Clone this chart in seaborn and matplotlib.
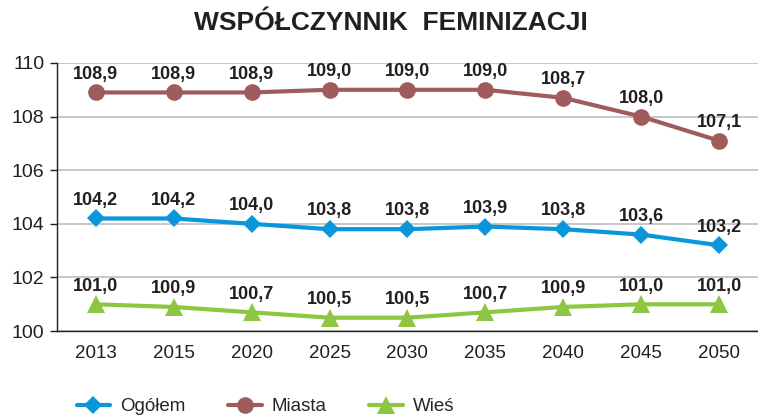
import numpy as np
import pandas as pd
import seaborn as sns
import matplotlib.pyplot as plt

# Data
years = ['2013', '2015', '2020', '2025', '2030', '2035', '2040', '2045', '2050']
ogolem = [104.2, 104.2, 104.0, 103.8, 103.8, 103.9, 103.8, 103.6, 103.2]
miasta = [108.9, 108.9, 108.9, 109.0, 109.0, 109.0, 108.7, 108.0, 107.1]
wies = [101.0, 100.9, 100.7, 100.5, 100.5, 100.7, 100.9, 101.0, 101.0]

series_names = ['Ogółem', 'Miasta', 'Wieś']
colors = ['#0A96DA', '#A05C5C', '#8DC641']
markers = ['D', 'o', '^']
msizes = [9, 12, 13]

df = pd.DataFrame({
    'year': years * 3,
    'x': list(range(len(years))) * 3,
    'value': ogolem + miasta + wies,
    'series': [s for s in series_names for _ in years],
})

sns.set_style('white')
plt.rcParams['font.family'] = ['Liberation Sans', 'DejaVu Sans']

fig = plt.figure(figsize=(7.58, 4.17), dpi=100)
ax = fig.add_axes([0.075, 0.206, 0.925, 0.643])

for name, col, mk, ms in zip(series_names, colors, markers, msizes):
    sub = df[df['series'] == name]
    sns.lineplot(data=sub, x='x', y='value', ax=ax, color=col, marker=mk,
                 markersize=ms, markeredgewidth=0, linewidth=3, label=name)
    for xv, yv in zip(sub['x'], sub['value']):
        ax.annotate(f'{yv:.1f}'.replace('.', ','), (xv, yv), xytext=(0, 7),
                    textcoords='offset points', ha='center', va='bottom',
                    fontsize=13, fontweight='bold', color='#231F20')

ax.set_xlim(-0.5, len(years) - 0.5)
ax.set_ylim(100, 110)
ax.set_yticks([100, 102, 104, 106, 108, 110])
ax.set_xticks(range(len(years)))
ax.set_xticklabels(years)
ax.set_xticks(np.arange(-0.5, len(years), 1), minor=True)
ax.tick_params(axis='x', which='major', length=0, pad=10, labelsize=13.5, colors='#231F20')
ax.tick_params(axis='x', which='minor', length=6, direction='out', width=1, color='#231F20')
ax.tick_params(axis='y', length=5, direction='out', width=1, pad=4, labelsize=14,
               colors='#231F20', left=True)
ax.yaxis.grid(True, color='#BDBDBD', linewidth=1.2)
ax.set_axisbelow(True)
ax.set_xlabel('')
ax.set_ylabel('')
for s in ['top', 'right']:
    ax.spines[s].set_visible(False)
for s in ['left', 'bottom']:
    ax.spines[s].set_color('#231F20')
    ax.spines[s].set_linewidth(1)

fig.text(0.516, 0.945, 'WSPÓŁCZYNNIK  FEMINIZACJI', ha='center', va='center',
         fontsize=19, fontweight='bold', color='#231F20')

ax.get_legend().remove()
handles, labels = ax.get_legend_handles_labels()
fig.legend(handles, labels, loc='center', bbox_to_anchor=(0.35, 0.025), ncol=3,
           frameon=False, fontsize=13.5, columnspacing=2.3, handlelength=1.8,
           handletextpad=0.5)

fig.savefig('out.png', dpi=100)
